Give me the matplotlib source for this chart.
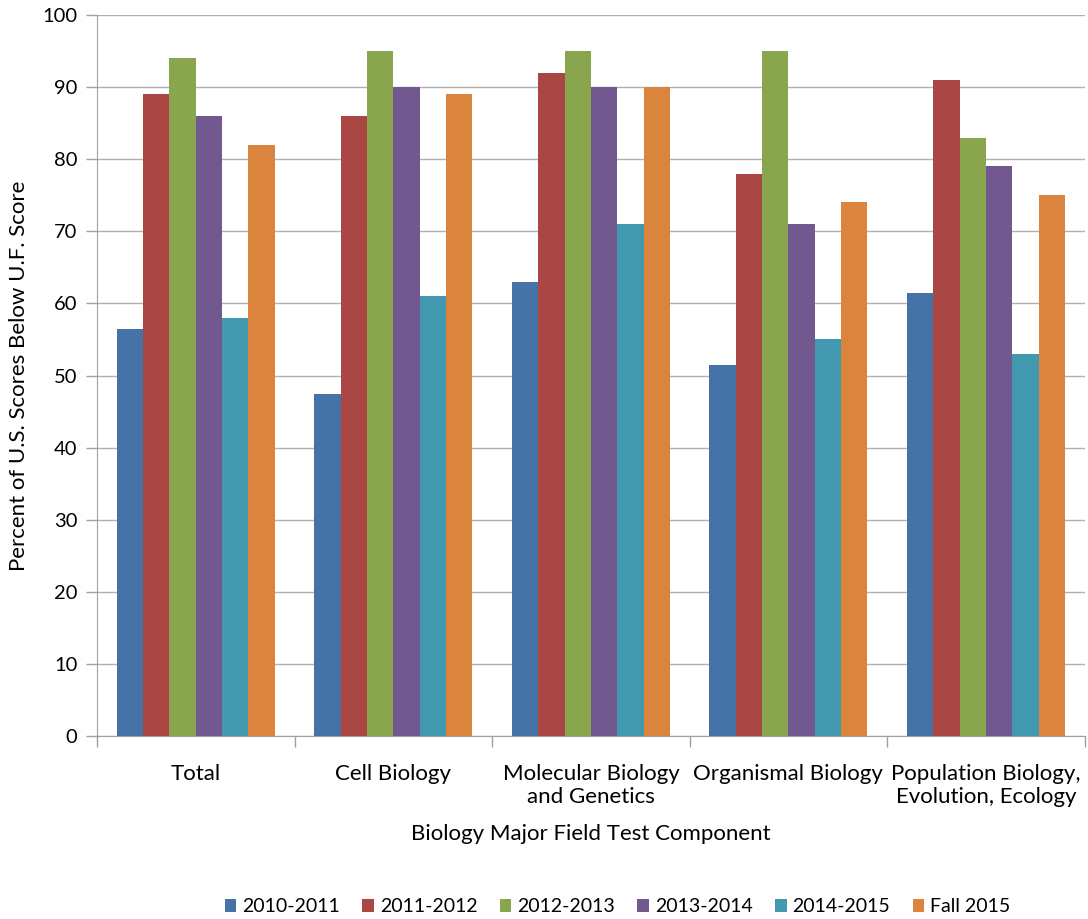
import numpy as np
import matplotlib
matplotlib.use('Agg')
import matplotlib.pyplot as plt

plt.rcParams['font.family'] = ['Lato', 'DejaVu Sans']

# data
categories = ['Total', 'Cell Biology', 'Molecular Biology\nand Genetics',
              'Organismal Biology', 'Population Biology,\nEvolution, Ecology']
series_names = ['2010-2011', '2011-2012', '2012-2013', '2013-2014', '2014-2015', 'Fall 2015']
y2010_2011 = [56.5, 47.5, 63, 51.5, 61.5]
y2011_2012 = [89, 86, 92, 78, 91]
y2012_2013 = [94, 95, 95, 95, 83]
y2013_2014 = [86, 90, 90, 71, 79]
y2014_2015 = [58, 61, 71, 55, 53]
fall_2015 = [82, 89, 90, 74, 75]
series_values = [y2010_2011, y2011_2012, y2012_2013, y2013_2014, y2014_2015, fall_2015]

colors = ['#4572A7', '#AA4643', '#89A54E', '#71588F', '#4198AF', '#DB843D']

fig = plt.figure(figsize=(10.88, 9.19), dpi=100)
ax = fig.add_axes([0.0892, 0.1991, 0.9078, 0.7846])

x = np.arange(len(categories))
n = len(series_values)
w = 0.8 / n
for i, (vals, name, col) in enumerate(zip(series_values, series_names, colors)):
    ax.bar(x - 0.4 + w * (i + 0.5), vals, width=w, color=col, label=name, zorder=3)

ax.set_xlim(-0.5, len(categories) - 0.5)
ax.set_ylim(0, 100)
ax.set_yticks(np.arange(0, 101, 10))
ax.yaxis.grid(True, color='#b0b0b0', linewidth=1, zorder=0)

# boundaries get tick marks, labels sit at group centres
ax.set_xticks(np.arange(-0.5, len(categories), 1.0))
ax.set_xticklabels([])
ax.set_xticks(x, minor=True)
ax.set_xticklabels(categories, minor=True, fontsize=16)
ax.tick_params(axis='x', which='major', length=8, color='#a0a0a0', width=1)
ax.tick_params(axis='x', which='minor', length=0, pad=20)
ax.tick_params(axis='y', length=8, color='#a0a0a0', width=1, labelsize=14.5, pad=6)

for s in ['top', 'right']:
    ax.spines[s].set_visible(False)
for s in ['left', 'bottom']:
    ax.spines[s].set_color('#a0a0a0')

ax.set_ylabel('Percent of U.S. Scores Below U.F. Score', fontsize=16, labelpad=10)
ax.set_xlabel('Biology Major Field Test Component', fontsize=16, labelpad=12)

ax.legend(loc='center', bbox_to_anchor=(0.527, -0.237), ncol=6, frameon=False,
          fontsize=14, handlelength=0.6, handleheight=0.6, handletextpad=0.3,
          columnspacing=1.15)

fig.savefig('out.png', dpi=100)
